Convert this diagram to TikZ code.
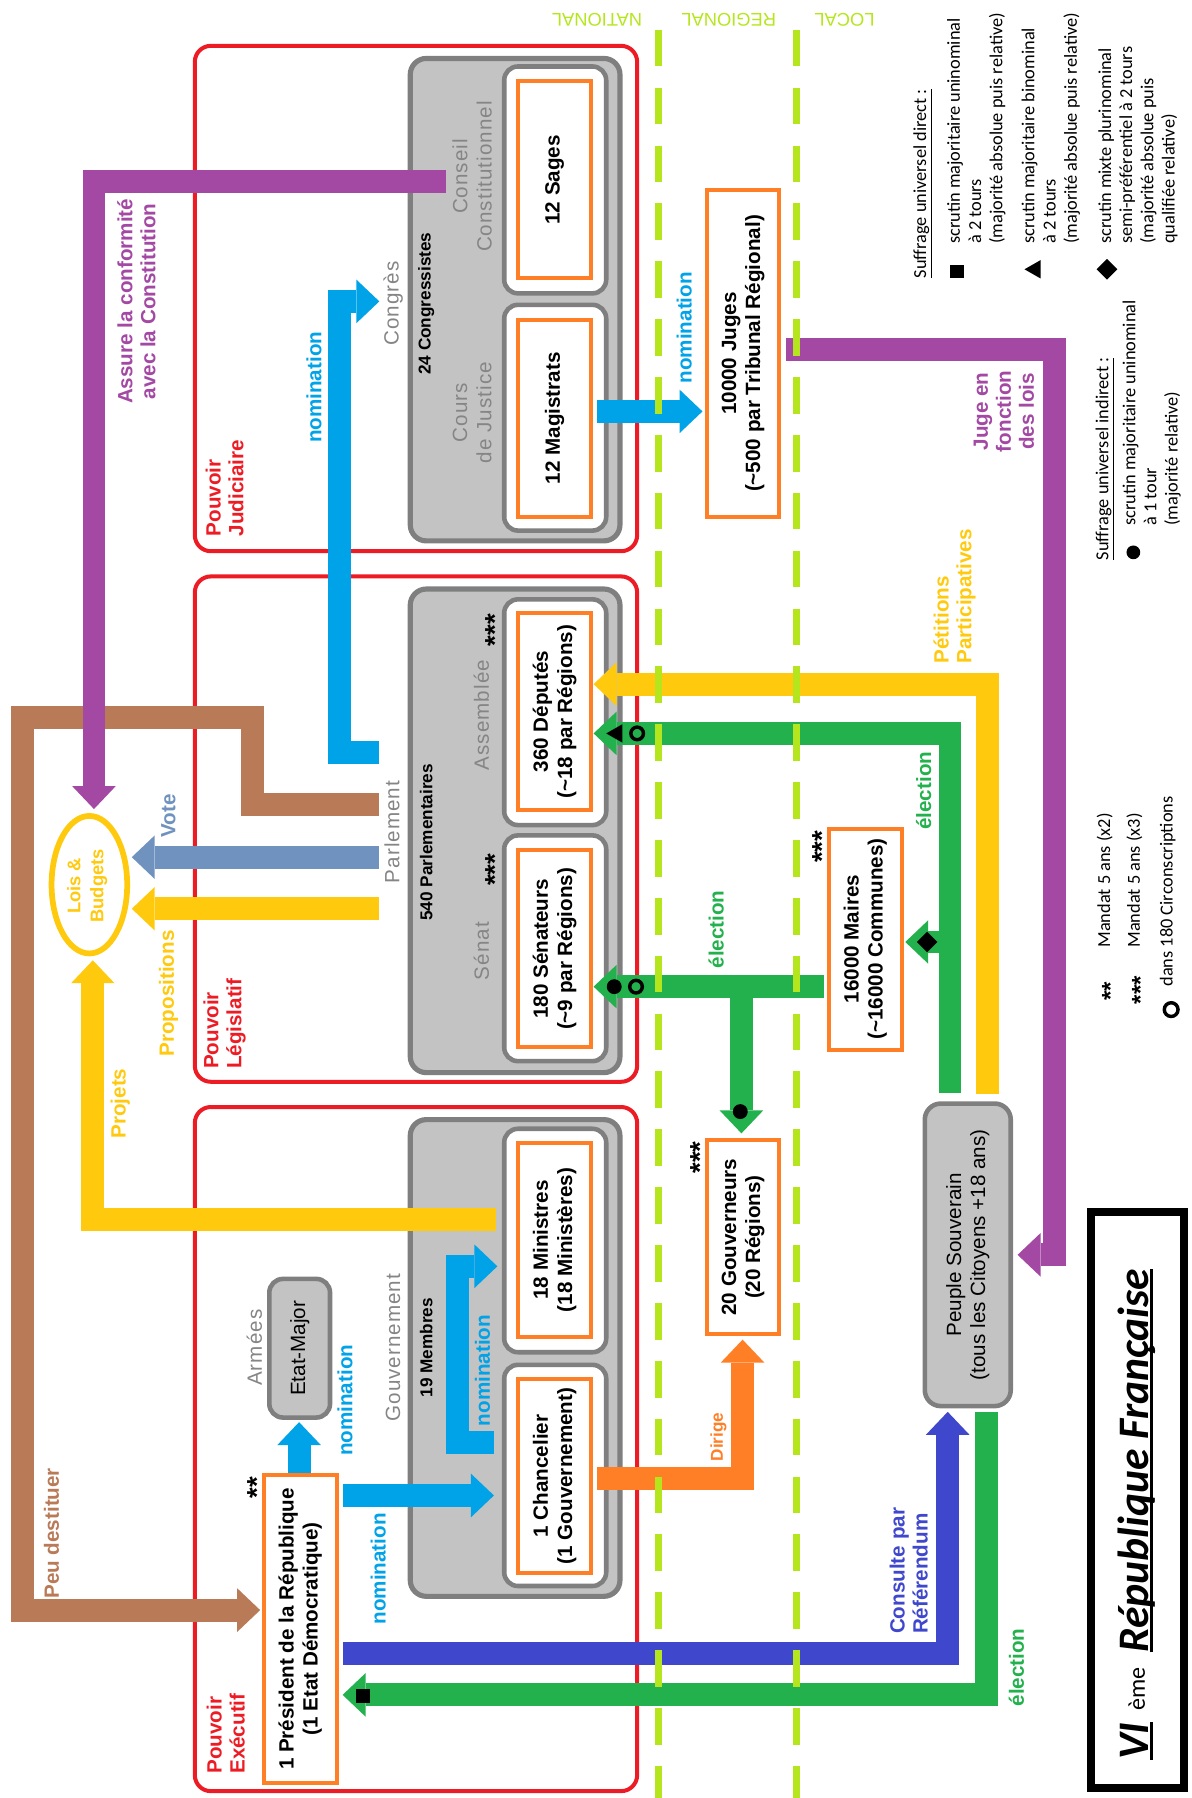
\documentclass[tikz,border=0pt]{standalone}
\usepackage{fontspec}
\setmainfont{Liberation Sans}
\newfontfamily\calib{Carlito}
\newfontfamily\spaced[LetterSpace=5]{Liberation Sans}
\usetikzlibrary{arrows.meta}
\definecolor{redc}{HTML}{ED1C24}
\definecolor{grayf}{HTML}{C3C3C3}
\definecolor{grayl}{HTML}{7F7F7F}
\definecolor{graytxt}{HTML}{858585}
\definecolor{orangec}{HTML}{FF7F27}
\definecolor{cyanc}{HTML}{00A2E8}
\definecolor{purplec}{HTML}{A349A4}
\definecolor{brownc}{HTML}{B97A57}
\definecolor{yellowc}{HTML}{FFC90E}
\definecolor{votec}{HTML}{7092BE}
\definecolor{greenc}{HTML}{22B14C}
\definecolor{bluec}{HTML}{3F48CC}
\definecolor{limec}{HTML}{B5E61D}
\begin{document}
\begin{tikzpicture}[x=1pt,y=-1pt,
 redframe/.style={draw=redc,line width=3.5pt,rounded corners=14pt},
 grayframe/.style={draw=grayl,fill=grayf,line width=4.5pt,rounded corners=14pt},
 whitebox/.style={draw=grayl,fill=white,line width=4pt,rounded corners=12pt},
 obox/.style={draw=orangec,fill=white,line width=3.5pt,rotate=90,align=center,inner sep=0pt,font=\bfseries\fontsize{18}{21}\selectfont},
 gnode/.style={draw=grayl,fill=grayf,line width=4pt,rounded corners=12pt,rotate=90,align=center,inner sep=0pt,font=\fontsize{18}{21}\selectfont},
 txt/.style={rotate=90,align=center,inner sep=0pt},
 big/.style={font=\bfseries\fontsize{18}{20}\selectfont},
 mid/.style={font=\bfseries\fontsize{15}{17}\selectfont},
 stars/.style={txt,font=\bfseries\fontsize{24}{24}\selectfont},
 glbl/.style={txt,text=graytxt,font=\spaced\fontsize{18}{21}\selectfont},
 leg/.style={txt,anchor=west,align=left,font=\calib\fontsize{16}{18.5}\selectfont},
 band/.style={line width=20pt,line join=miter,line cap=butt},
 arr/.style={band,-{Triangle[width=38pt,length=20pt,line width=0pt]}},
 lime/.style={draw=limec,line width=6pt,dash pattern=on 32pt off 18.5pt},
 ring/.style={draw=black,line width=3pt},
 lvl/.style={rotate=180,inner sep=0pt,text=limec,font=\fontsize{16}{18}\selectfont},
 ttl/.style={rotate=90,inner sep=0pt,anchor=base west,font=\calib\bfseries\itshape\fontsize{38}{42}\selectfont}
]
\useasboundingbox (0,0) rectangle (1040,1569);

% ---------- frames ----------
\draw[redframe] (170,40) rectangle (556,481);
\draw[redframe] (170,503) rectangle (556,944);
\draw[redframe] (170,966) rectangle (556,1563);
\draw[grayframe] (358,51) rectangle (541,472);
\draw[grayframe] (358,514) rectangle (541,936);
\draw[grayframe] (358,977) rectangle (541,1393);
\draw[whitebox] (440,58) rectangle (529,256);
\draw[whitebox] (440,266) rectangle (529,463);
\draw[whitebox] (440,523) rectangle (529,720);
\draw[whitebox] (440,729) rectangle (529,926);
\draw[whitebox] (440,985) rectangle (529,1180);
\draw[whitebox] (440,1191) rectangle (529,1384);

% ---------- boxes ----------
\node[obox,minimum width=172,minimum height=64] (sages) at (484,157) {12 Sages};
\node[obox,minimum width=172,minimum height=64] (magis) at (484,365) {12 Magistrats};
\node[obox,minimum width=172,minimum height=64] (deput) at (484,621) {360 Députés\\(\textasciitilde18 par Régions)};
\node[obox,minimum width=172,minimum height=64] (senat) at (484,828) {180 Sénateurs\\(\textasciitilde9 par Régions)};
\node[obox,minimum width=170,minimum height=64] (minis) at (484,1082) {18 Ministres\\(18 Ministères)};
\node[obox,minimum width=170,minimum height=64] (chanc) at (484,1288) {1 Chancelier\\(1 Gouvernement)};
\node[obox,minimum width=269,minimum height=64] (presi) at (262,1421.5) {1 Président de la République\\(1 Etat Démocratique)};
\node[obox,minimum width=169,minimum height=63] (gouvr) at (648.5,1079.5) {20 Gouverneurs\\(20 Régions)};
\node[obox,minimum width=285,minimum height=63] (juges) at (648.5,308.5) {10000 Juges\\(\textasciitilde500 par Tribunal Régional)};
\node[obox,minimum width=193,minimum height=64] (maires) at (755,819.5) {16000 Maires\\(\textasciitilde16000 Communes)};
\node[gnode,minimum width=121,minimum height=53] (etat) at (261.5,1176.5) {Etat-Major};
\node[gnode,minimum width=264,minimum height=75,rounded corners=14pt] (peuple) at (844.5,1095) {Peuple Souverain\\(tous les Citoyens +18 ans)};
\draw[yellowc,line width=5pt] (78,772) ellipse [x radius=33, y radius=60];
\node[txt,text=yellowc,font=\bfseries\fontsize{16}{20}\selectfont] (lois) at (76,773) {Lois \&\\Budgets};

% ---------- inner labels ----------
\node[glbl] (congres) at (343,265) {Congrès};
\node[txt,mid] (congr) at (372,265) {24 Congressistes};
\node[glbl] (conseil) at (412,154) {Conseil\\Constitutionnel};
\node[glbl] (cours) at (412,360) {Cours\\de Justice};
\node[glbl] (parl) at (342,726) {Parlement};
\node[txt,mid] (parlm) at (372,735) {540 Parlementaires};
\node[glbl] (senatl) at (420,830) {Sénat};
\node[glbl] (assemb) at (420,624) {Assemblée};
\node[stars] (st1) at (432,550) {***};
\node[stars] (st2) at (432,759) {***};
\node[glbl] (gouvl) at (343,1176) {Gouvernement};
\node[txt,mid] (membres) at (372,1176) {19 Membres};
\node[glbl] (armees) at (222,1176) {Armées};
\node[stars] (st0) at (224,1298) {**};
\node[stars] (st3) at (611,1010) {***};
\node[stars] (st4) at (717,739) {***};
\node[txt,big,text=redc,anchor=west,align=left] (pj) at (196,468) {Pouvoir\\Judiciaire};
\node[txt,big,text=redc,anchor=west,align=left] (pl) at (196,933) {Pouvoir\\Législatif};
\node[txt,big,text=redc,anchor=west,align=left] (pe) at (197,1548) {Pouvoir\\Exécutif};

% ---------- connector points ----------
\coordinate (pA1) at (389,158); \coordinate (pA2) at (82,158); \coordinate (pA3) at (82,706);
\coordinate (b1) at (331,702); \coordinate (b2) at (220,702); \coordinate (b3) at (220,626);
\coordinate (b4) at (20,626); \coordinate (b5) at (20,1405); \coordinate (b6) at (227,1405);
\coordinate (v1) at (331,748); \coordinate (v2) at (115,748);
\coordinate (pr1) at (331,793); \coordinate (pr2) at (115,793);
\coordinate (pj1) at (433,1064); \coordinate (pj2) at (81,1064); \coordinate (pj3) at (81,838);
\coordinate (c1) at (331,657); \coordinate (c2) at (296,657); \coordinate (c3) at (296,263); \coordinate (c4) at (331,263);
\coordinate (m1) at (521,359); \coordinate (m2) at (613,359);
\coordinate (n1) at (299,1305); \coordinate (n2) at (431,1305);
\coordinate (q1) at (431,1259); \coordinate (q2) at (399,1259); \coordinate (q3) at (399,1105); \coordinate (q4) at (434,1105);
\coordinate (e1) at (261,1285); \coordinate (e2) at (261,1241);
\coordinate (d1) at (521,1290); \coordinate (d2) at (648,1290); \coordinate (d3) at (648,1169);
\coordinate (s1) at (719,861); \coordinate (s2) at (518,861); \coordinate (s3) at (647,861); \coordinate (s4) at (647,989);
\coordinate (g1) at (829,954); \coordinate (g2) at (829,640); \coordinate (g3) at (518,640);
\coordinate (g4) at (829,822); \coordinate (g5) at (790,822);
\coordinate (y1) at (862,955); \coordinate (y2) at (862,597); \coordinate (y3) at (518,597);
\coordinate (r1) at (299,1443); \coordinate (r2) at (827,1443); \coordinate (r3) at (827,1232);
\coordinate (h1) at (861,1232); \coordinate (h2) at (861,1479); \coordinate (h3) at (299,1479);
\coordinate (j1) at (686,305); \coordinate (j2) at (920,305); \coordinate (j3) at (920,1095); \coordinate (j4) at (888,1095);

% ---------- connectors ----------
\draw[arr,brownc] (b1) -- (b2) -- (b3) -- (b4) -- (b5) -- (b6);
\draw[arr,purplec] (pA1) -- (pA2) -- (pA3);
\draw[arr,votec] (v1) -- (v2);
\draw[arr,yellowc] (pr1) -- (pr2);
\draw[arr,yellowc] (pj1) -- (pj2) -- (pj3);
\draw[arr,cyanc] (c1) -- (c2) -- (c3) -- (c4);
\draw[arr,cyanc] (m1) -- (m2);
\draw[arr,cyanc] (n1) -- (n2);
\draw[arr,cyanc] (q1) -- (q2) -- (q3) -- (q4);
\draw[arr,cyanc] (e1) -- (e2);
\draw[arr,orangec] (d1) -- (d2) -- (d3);
\draw[arr,greenc] (s1) -- (s2);
\draw[arr,greenc] (s3) -- (s4);
\draw[arr,greenc] (g1) -- (g2) -- (g3);
\draw[arr,greenc] (g4) -- (g5);
\draw[arr,yellowc] (y1) -- (y2) -- (y3);
\draw[arr,bluec] (r1) -- (r2) -- (r3);
\draw[arr,greenc] (h1) -- (h2) -- (h3);
\draw[arr,purplec] (j1) -- (j2) -- (j3) -- (j4);

% ---------- connector labels ----------
\node[txt,big,text=purplec] (lA) at (119,263) {Assure la conformité\\avec la Constitution};
\node[txt,big,text=cyanc] (ln1) at (274,338) {nomination};
\node[txt,big,text=cyanc] (ln2) at (597,286) {nomination};
\node[txt,big,text=cyanc] (ln3) at (301,1222) {nomination};
\node[txt,big,text=cyanc] (ln4) at (330,1369) {nomination};
\node[txt,big,text=cyanc] (ln5) at (421,1196) {nomination};
\node[txt,big,text=purplec] (lJ) at (876,359) {Juge en\\fonction\\des lois};
\node[txt,big,text=votec] (lV) at (147,712) {Vote};
\node[txt,big,text=yellowc] (lP) at (147,867) {Propositions};
\node[txt,big,text=yellowc] (lPj) at (105,963) {Projets};
\node[txt,big,text=brownc] (lD) at (45,1338) {Peu destituer};
\node[txt,font=\bfseries\fontsize{15}{17}\selectfont,text=orangec] (lDi) at (627,1254) {Dirige};
\node[txt,big,text=greenc] (le1) at (625,811) {élection};
\node[txt,big,text=greenc] (le2) at (806,690) {élection};
\node[txt,big,text=greenc] (le3) at (887,1455) {élection};
\node[txt,big,text=yellowc,anchor=west,align=left] (lPe) at (833,579) {Pétitions\\Participatives};
\node[txt,big,text=bluec,anchor=west,align=left] (lC) at (793,1426) {Consulte par\\Référendum};

% ---------- markers ----------
\fill (529,640) -- (543,632) -- (543,648) -- cycle;
\draw[ring] (556,640) circle (5.5);
\fill (536,861) circle (6.5);
\draw[ring] (555,861) circle (5.5);
\fill (646,970) circle (6.5);
\fill (800,822) -- (809,813) -- (818,822) -- (809,831) -- cycle;
\fill (311,1474) rectangle (323,1486);

% ---------- level lines ----------
\draw[lime] (575,26) -- (575,1569);
\draw[lime] (695,26) -- (695,1569);
\node[lvl] (nat) at (521,17) {NATIONAL};
\node[lvl] (reg) at (636,17) {REGIONAL};
\node[lvl] (loc) at (737,17) {LOCAL};

% ---------- legend ----------
\node[leg] (lgd1) at (805,243) {\underline{Suffrage universel direct :}};
\fill (829,231) rectangle (841,243);
\node[leg] (lg1) at (852,213) {scrutin majoritaire uninominal\\à 2 tours\\(majorité absolue puis relative)};
\fill (894,235) -- (908,227) -- (908,243) -- cycle;
\node[leg] (lg2) at (917,213) {scrutin majoritaire binominal\\à 2 tours\\(majorité absolue puis relative)};
\fill (957,235) -- (966,226) -- (975,235) -- (966,244) -- cycle;
\node[leg] (lg3) at (993,213) {scrutin mixte plurinominal\\semi-préférentiel à 2 tours\\(majorité absolue puis\\qualifiée relative)};
\node[leg] (lgd2) at (964,489) {\underline{Suffrage universel indirect :}};
\fill (989,482) circle (6);
\node[leg] (lg4) at (1005,459) {scrutin majoritaire uninominal\\à 1 tour\\(majorité relative)};
\node[stars,font=\bfseries\fontsize{21}{21}\selectfont] (ls1) at (969,865) {**};
\node[leg] (lg5) at (964,827) {Mandat 5 ans (x2)};
\node[stars,font=\bfseries\fontsize{21}{21}\selectfont] (ls2) at (995,864) {***};
\node[leg] (lg6) at (990,827) {Mandat 5 ans (x3)};
\draw[ring] (1022,881) circle (6);
\node[leg] (lg7) at (1019,861) {dans 180 Circonscriptions};

% ---------- title ----------
\draw[line width=7pt] (952,1058) rectangle (1033,1560);
\node[ttl] (tVI) at (1002,1536) {VI};
\node[ttl,font=\calib\fontsize{21}{21}\selectfont] (tEme) at (999,1493) {ème};
\node[ttl] (tRF) at (1002,1442) {République Française};
\draw[line width=2.6pt] ([xshift=2.5pt]tVI.base west) -- ([xshift=2.5pt]tVI.base east);
\draw[line width=2.6pt] ([xshift=2.5pt]tRF.base west) -- ([xshift=2.5pt]tRF.base east);
\end{tikzpicture}
\end{document}
